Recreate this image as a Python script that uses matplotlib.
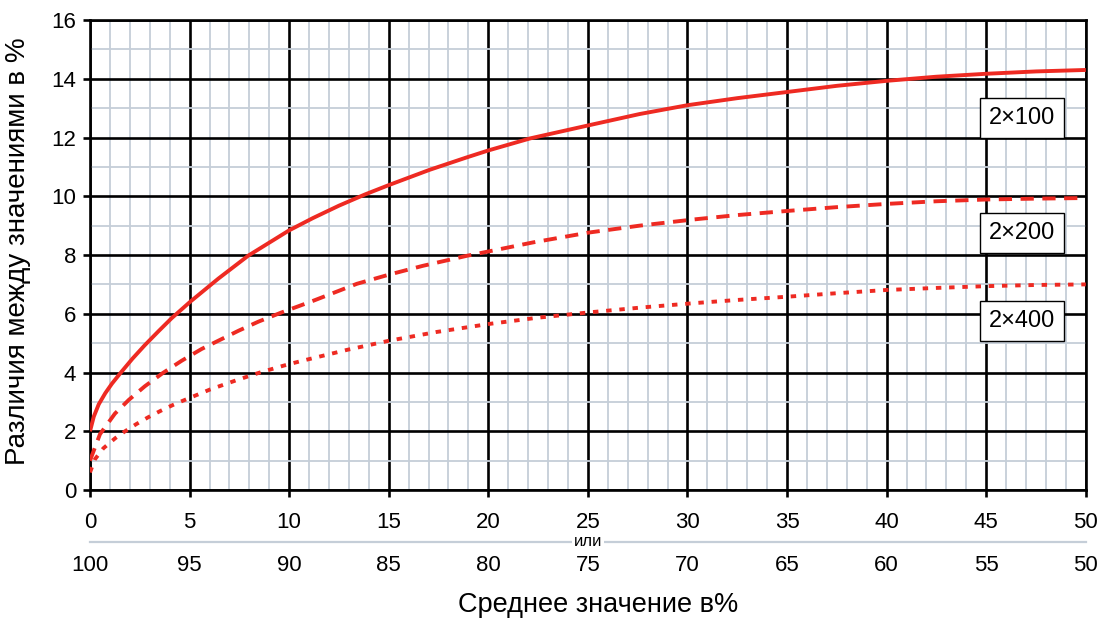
import matplotlib
matplotlib.use("Agg")
import matplotlib.pyplot as plt
from matplotlib.ticker import MultipleLocator, FixedLocator

plt.rcParams['font.family'] = ['Liberation Sans', 'DejaVu Sans']

# Share of a characteristic (%) vs. the minimal significant difference (%)
x_2x100 = [0, 0.19, 0.44, 0.77, 1.1, 1.55, 2.13, 2.75, 3.46, 4.1, 5.05, 6.45, 7.95, 10, 11.2, 12.5,
           13.8, 15, 17.05, 18.9, 20, 22.1, 25, 27.6, 30, 32.5, 35, 37.5, 40, 42.5, 45, 47.5, 50]
y_2x100 = [2.0, 2.5, 2.92, 3.3, 3.62, 4.0, 4.47, 4.93, 5.42, 5.85, 6.42, 7.2, 7.98, 8.84, 9.26, 9.68,
           10.06, 10.38, 10.9, 11.32, 11.56, 11.97, 12.41, 12.8, 13.1, 13.34, 13.55, 13.76, 13.93,
           14.07, 14.17, 14.25, 14.3]

x_2x200 = [0, 0.5, 1.25, 1.95, 2.75, 3.65, 4.6, 5.6, 7.45, 8.45, 9.6, 11.2, 13.4, 15, 16.7, 18.9,
           20, 22.25, 25, 27.6, 30.3, 32.5, 35, 37.5, 40, 42.5, 45, 47.5, 50]
y_2x200 = [1.0, 1.9, 2.6, 3.07, 3.53, 3.98, 4.4, 4.8, 5.42, 5.73, 6.04, 6.44, 7.02, 7.33, 7.63,
           7.97, 8.12, 8.43, 8.76, 9.0, 9.21, 9.36, 9.5, 9.63, 9.74, 9.83, 9.89, 9.92, 9.94]

x_2x400 = [0, 0.25, 0.67, 1.26, 1.76, 2.34, 2.93, 3.56, 4.18, 4.77, 6.02, 7.36, 8.53, 9.7, 10.54,
           12.9, 15, 17.4, 20, 22.4, 25.1, 27.8, 30.3, 32.5, 35, 37.5, 40, 42.5, 45, 47.5, 50]
y_2x400 = [0.6, 1.05, 1.42, 1.76, 2.0, 2.25, 2.48, 2.7, 2.9, 3.07, 3.42, 3.74, 4.0, 4.23, 4.38,
           4.77, 5.08, 5.38, 5.65, 5.86, 6.05, 6.22, 6.36, 6.47, 6.58, 6.7, 6.81, 6.88, 6.94, 6.98, 7.0]

series_labels = ['2×100', '2×200', '2×400']
label_y = [12.65, 8.74, 5.74]

x_ticks = [0, 5, 10, 15, 20, 25, 30, 35, 40, 45, 50]
x_ticks_alt = [100, 95, 90, 85, 80, 75, 70, 65, 60, 55, 50]
y_ticks = [0, 2, 4, 6, 8, 10, 12, 14, 16]

RED = '#ee2a22'
FINE = '#c5ced8'

fig = plt.figure(figsize=(10.99, 6.18), dpi=100)
ax = fig.add_axes([0.0819, 0.2071, 0.9061, 0.7605])

ax.set_xlim(0, 50)
ax.set_ylim(0, 16)

# grid: fine 1-unit mesh in grey-blue, coarse mesh in black
ax.xaxis.set_minor_locator(MultipleLocator(1))
ax.yaxis.set_minor_locator(MultipleLocator(1))
ax.xaxis.set_major_locator(FixedLocator(x_ticks))
ax.yaxis.set_major_locator(FixedLocator(y_ticks))
ax.grid(which='minor', color=FINE, linewidth=1.3, zorder=0)
ax.grid(which='major', color='black', linewidth=1.9, zorder=1)
ax.set_axisbelow(True)
for s in ax.spines.values():
    s.set_color('black')
    s.set_linewidth(1.9)

ax.tick_params(which='major', direction='out', length=5, width=1.9, labelsize=16)
ax.tick_params(axis='x', which='major', pad=11)
ax.tick_params(axis='y', which='major', pad=5)
ax.tick_params(which='minor', length=0)
ax.set_xticklabels([str(v) for v in x_ticks])
ax.set_yticklabels([str(v) for v in y_ticks])

lw = 2.8
ax.plot(x_2x100, y_2x100, color=RED, lw=lw, solid_capstyle='butt', solid_joinstyle='round', zorder=3)
ax.plot(x_2x200, y_2x200, color=RED, lw=lw, dashes=(3.4, 2.2), dash_capstyle='butt', zorder=3)
ax.plot(x_2x400, y_2x400, color=RED, lw=lw, dashes=(1.4, 2.0), dash_capstyle='butt', zorder=3)

for lab, ly in zip(series_labels, label_y):
    ax.text(46.8, ly, lab, ha='center', va='center', fontsize=17, zorder=5,
            bbox=dict(boxstyle='square,pad=0.38', facecolor='white', edgecolor='black', linewidth=1.0))

# second row of x labels (complementary share)
sec = ax.secondary_xaxis(-0.138)
sec.set_xticks(x_ticks)
sec.set_xticklabels([str(v) for v in x_ticks_alt])
sec.tick_params(length=0, labelsize=16, pad=0)
sec.spines['bottom'].set_visible(False)

ax.plot([0, 1], [-0.110, -0.110], transform=ax.transAxes, color=FINE, lw=1.6, clip_on=False)
ax.text(0.5, -0.110, 'или', transform=ax.transAxes, ha='center', va='center', fontsize=12,
        bbox=dict(boxstyle='square,pad=0.1', facecolor='white', edgecolor='none'))

ax.text(0.5105, -0.245, 'Среднее значение в%', transform=ax.transAxes, ha='center', va='center',
        fontsize=19.5)
fig.text(18 / 1099, 1 - 251.5 / 618, 'Различия между значениями в %', rotation=90,
         ha='center', va='center', fontsize=20)

fig.savefig('out.png', dpi=100)
